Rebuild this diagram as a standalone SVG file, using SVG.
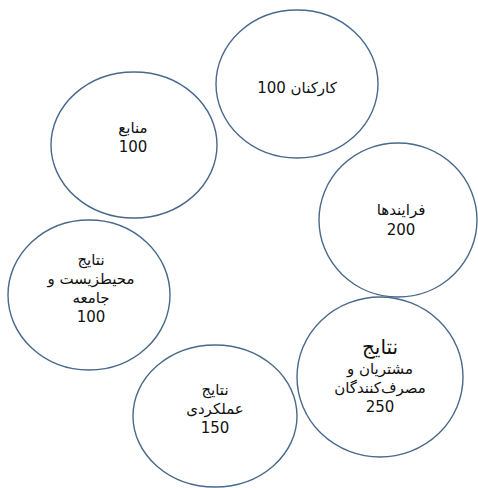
<svg xmlns="http://www.w3.org/2000/svg" width="478" height="488" viewBox="0 0 478 488">
<style>
.c{fill:#ffffff;stroke:#48698b;stroke-width:1.4}
.t{font-family:"DejaVu Sans","Noto Sans",sans-serif;font-size:15px;fill:#111;text-anchor:middle}
.b{font-size:20px}
</style>
<rect width="478" height="488" fill="#ffffff"/>
<g id="connectors"></g>
<g id="n1"><ellipse class="c" cx="297" cy="84" rx="81" ry="74"/>
<text class="t" x="297" y="93">100 کارکنان</text></g>
<g id="n2"><ellipse class="c" cx="134" cy="145" rx="83" ry="73"/>
<text class="t" x="133" y="133">منابع</text>
<text class="t" x="133" y="152">100</text></g>
<g id="n3"><ellipse class="c" cx="398" cy="220" rx="79" ry="77"/>
<text class="t" x="401" y="215">فرایندها</text>
<text class="t" x="401" y="235">200</text></g>
<g id="n4"><ellipse class="c" cx="89" cy="295" rx="81" ry="75"/>
<text class="t" x="91" y="265">نتایج</text>
<text class="t" x="91" y="284">محیطزیست و</text>
<text class="t" x="91" y="303">جامعه</text>
<text class="t" x="91" y="322">100</text></g>
<g id="n5"><ellipse class="c" cx="380" cy="377" rx="83" ry="80"/>
<text class="t b" x="380" y="354">نتایج</text>
<text class="t" x="380" y="374">مشتریان و</text>
<text class="t" x="380" y="393">مصرف‌کنندگان</text>
<text class="t" x="380" y="412">250</text></g>
<g id="n6"><ellipse class="c" cx="215" cy="416" rx="82" ry="71"/>
<text class="t" x="215" y="395">نتایج</text>
<text class="t" x="215" y="414">عملکردی</text>
<text class="t" x="215" y="433">150</text></g>
</svg>
